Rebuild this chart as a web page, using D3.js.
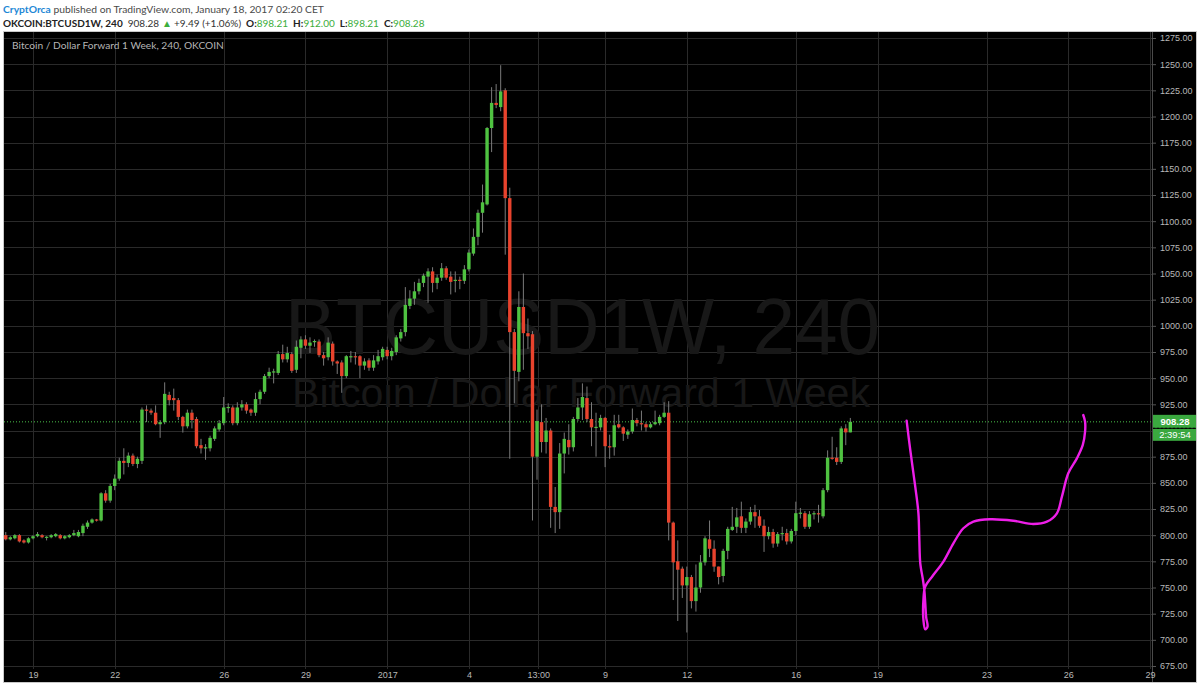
<!DOCTYPE html>
<html><head><meta charset="utf-8">
<script src="https://cdn.jsdelivr.net/npm/d3@7"></script>
<style>
html,body{margin:0;padding:0;background:#fff;}
svg{display:block;}
</style></head>
<body>
<svg id="c" width="1200" height="687"></svg>
<script>
// ---- DATA (4h candles, first bar = 2016-12-18 00:00) ----
const opens = [800,796,797,800,795,793,797,799,800,798,798,799,800,797,798,800,799,802,808,812,815,814,840,833,847,854,871,869,876,868,
871,920,919,917,906,908,934,931,929,913,904,917,911,886,883,883,892,901,907,922,922,907,922,925,920,917,930,937,952,956,
955,973,968,973,958,979,987,981,985,985,972,970,983,966,965,952,970,971,971,962,967,960,966,970,977,971,975,988,994,1019,
1026,1033,1041,1047,1052,1041,1046,1055,1047,1043,1044,1043,1054,1069,1085,1108,1116,1189,1213,1209,1225,1122,994,956,1018,993,992,875,908,889,
900,827,822,878,891,884,911,922,931,911,903,903,912,885,884,906,903,896,899,910,907,906,903,906,907,913,917,812,775,768,
752,760,737,750,774,796,787,770,761,785,805,808,818,807,813,822,818,809,799,803,792,801,802,794,804,821,821,808,820,821,
818,843,874,874,870,902,898.21];
const highs = [803,799,801,801,796,798,800,803,801,799,801,802,801,800,801,805,805,811,814,816,815.5,841,843,849,858,874,883,879,878,875,
922,924,921,924,910,946,937,940,931,914,920,920,913,892,887,895,904,910,932,926,924,927,929,927,921,936,939,954,960,959,
976,982,980,975,986,990,991,989,987,987,975,989,985,967,967,972,976,975,972,969,969,972,977,980,980,979,991,997,1037,1034,
1042,1045,1050,1055,1056,1049,1060,1057,1052,1052,1047,1058,1073,1093,1111,1135,1190,1228,1231,1249,1227,1132,997,1033,1050,1007,995,920,925,912,
902,846,888,898,906,913,931,945,942,927,917,915,913,896,915,915,904,901,921,912,919,908,908,919,915,927,928,813,795,770,
770,762,772,781,799,814,795,770,787,808,827,826,832,816,827,829,824,815,808,806,803,808,806,806,832,826,823,823,823,829,
845,881,894,884,904,906,912];
const lows = [795,795,796,793,792,792,796,798,797,795,797,798,796,796,797,799,798,799,806,811,813,813,831,831,843,852,858,865,866,864,
868,908,915,905,893,906,924,919,910,898,902,902,883,878,872,880,890,899,905,917,905,905,919,916,914,914,925,935,950,945,
953,965,965,955,955,969,978,974,980,970,962,967,962,954,936,950,965,963,950,958,957,957,963,967,968,967,972,985,990,1016,
1020,1030,1037,1022,1032,1035,1043,1044,1030,1032,1035,1040,1052,1067,1077,1089,1115,1166,1208,1205,1068,873,926,947,958,978,814,853,879,878,
807,802,806,859,877,880,909,910,908,885,875,900,865,873,876,902,890,892,897,904,900,899,902,905,905,912,795,738,718,740,
707,730,727,745,771,779,765,753,755,777,804,802,802,802,810,807,807,784,796,788,789,795,791,792,800,816,806,806,815,812,
816,841,872,867,868,886,898.21];
const closes = [796,798,800,794,793,797,799,801,798,798.5,800,801,797,799,800,802,803,809,812,815,814,840,833,847,854,871,869,876,868,873,
920,919,917,906,908,935,929,929,913,904,917,910,885,883,884,893,902,907,922,922.5,907,922,925,919,917,930,937,952,956,956.5,
973,968,974,957,980,987,981,984,985.5,972,969,984,966,964,952,971,971,970,962,966,960,967,971,978,971,976,989,994,1020,1026,
1033,1041,1048,1052,1041,1046,1055,1046,1042,1044,1043,1054,1070,1085,1108,1118,1189,1213,1211,1224,1122,994,957,1018,993,990,875,909,889,900,
827,822,878,892,884,911,922,932,911,903,903.5,912,885,884,905,903,897,899,910,907,906,903,906,908,913,917,812,774,767,752,
760,737,750,774,797,787,770,760,785,806,808,817,807,813,822,818,809,799,803,792,801,802,794,804,821,821.5,808,820,821,820,
843,874,873,870,902,898.21,908.28];

const yTicks = [675,700,725,750,775,800,825,850,875,900,925,950,975,1000,1025,1050,1075,1100,1125,1150,1175,1200,1225,1250,1275];
const xTickDates = [[2016,11,19,0],[2016,11,22,0],[2016,11,26,0],[2016,11,29,0],[2017,0,1,0],[2017,0,4,0],[2017,0,6,13],
  [2017,0,9,0],[2017,0,12,0],[2017,0,16,0],[2017,0,19,0],[2017,0,23,0],[2017,0,26,0],[2017,0,29,0]];
const xTickLabels = ["19","22","26","29","2017","4","13:00","9","12","16","19","23","26","29"];

// hand-drawn projection (fractional bar index, price)
const drawBars = [198.4,199.2,200.3,201.0,201.2,201.4,202.0,202.3,202.5,202.7,203.0,202.5,202.1,202.1,202.5,204.0,206.5,208.7,210.9,213.1,216.8,221.9,226.3,229.3,231.5,232.6,234.0,235.9,237.2,237.7,237.7,237.3];
const drawPrices = [909.4,881.4,846.3,820.9,795.4,773.4,757.2,747.6,735.2,721.8,712.6,710.1,719.0,738.1,750.8,760.3,774.7,792.2,806.6,812.9,815.2,813.8,810.7,812.9,820.9,836.8,859.1,873.4,886.2,898.9,908.4,914.8];

const lastPrice = 908.28;
const countdown = "2:39:54";

// ---- LAYOUT ----
const svg = d3.select("#c");
const P = {left:4, right:1152, top:32, bottom:669, axisBottom:682, panelRight:1196};
const barT0 = Date.UTC(2016,11,18,0);
const H4 = 4*3600*1000;
const barTime = i => new Date(barT0 + i*H4);

const x = d3.scaleUtc().domain([new Date(Date.UTC(2016,11,19)), new Date(Date.UTC(2017,0,29))]).range([33,1150]);
const y = d3.scaleLinear().domain([675,1275]).range([666,38]);

const UP = "#4fc241", DOWN = "#e8432d", WICK = "#7a7a7a", GRID = "#2a2a2a";
const AX = "'Liberation Sans', Arial, sans-serif";

// header
svg.append("rect").attr("x",0).attr("y",0).attr("width",1200).attr("height",687).attr("fill","#ffffff");
const hdr = "Lato, 'Open Sans', sans-serif";
const t1 = svg.append("text").attr("x",3).attr("y",13).attr("font-family",hdr).attr("font-size",10.3);
t1.append("tspan").attr("fill","#1e88d6").attr("font-weight","bold").text("CryptOrca");
t1.append("tspan").attr("fill","#4a4a4a").text(" published on TradingView.com, January 18, 2017 02:20 CET");
const t2 = svg.append("text").attr("x",3).attr("y",27).attr("font-family",hdr).attr("font-size",10);
t2.append("tspan").attr("fill","#222").attr("font-weight","bold").text("OKCOIN:BTCUSD1W, 240");
t2.append("tspan").attr("dx",5).attr("fill","#333").text("908.28");
t2.append("tspan").attr("dx",3).attr("fill","#3cae3c").text("▲");
t2.append("tspan").attr("dx",2).attr("fill","#333").text("+9.49 (+1.06%)");
const ohlc = [["O:","898.21"],["H:","912.00"],["L:","898.21"],["C:","908.28"]];
ohlc.forEach(d=>{
  t2.append("tspan").attr("dx",5).attr("fill","#222").attr("font-weight","bold").text(d[0]);
  t2.append("tspan").attr("fill","#3cae3c").text(d[1]);
});

// chart panel
svg.append("rect").attr("x",P.left).attr("y",P.top).attr("width",P.panelRight-P.left).attr("height",P.axisBottom-P.top).attr("fill","#000");
svg.append("rect").attr("x",P.left-0.5).attr("y",P.top-0.5).attr("width",P.panelRight-P.left+1).attr("height",P.axisBottom-P.top+1).attr("fill","none").attr("stroke","#c9c9c9");

const defs = svg.append("defs");
defs.append("clipPath").attr("id","plot").append("rect").attr("x",P.left).attr("y",P.top).attr("width",P.right-P.left).attr("height",P.bottom-P.top);
defs.append("clipPath").attr("id","yax").append("rect").attr("x",P.right).attr("y",P.top).attr("width",P.panelRight-P.right).attr("height",P.bottom-P.top);

const plot = svg.append("g").attr("clip-path","url(#plot)");

// grid
plot.selectAll("line.hg").data(yTicks).join("line").attr("class","hg")
  .attr("x1",P.left).attr("x2",P.right).attr("y1",d=>Math.round(y(d))+0.5).attr("y2",d=>Math.round(y(d))+0.5)
  .attr("stroke",GRID).attr("stroke-width",1);
const xTickVals = xTickDates.map(d=>new Date(Date.UTC(d[0],d[1],d[2],d[3])));
plot.selectAll("line.vg").data(xTickVals).join("line").attr("class","vg")
  .attr("x1",d=>Math.round(x(d))+0.5).attr("x2",d=>Math.round(x(d))+0.5).attr("y1",P.top).attr("y2",P.bottom)
  .attr("stroke",GRID).attr("stroke-width",1);

// watermark
plot.append("text").attr("x",285).attr("y",354).attr("font-family",AX)
  .attr("font-size",80).attr("fill","#181818").attr("textLength",595).attr("lengthAdjust","spacingAndGlyphs").text("BTCUSD1W, 240");
plot.append("text").attr("x",292).attr("y",407).attr("font-family",AX)
  .attr("font-size",40).attr("fill","#181818").attr("textLength",578).attr("lengthAdjust","spacingAndGlyphs").text("Bitcoin / Dollar Forward 1 Week");

// title
svg.append("text").attr("x",12).attr("y",49).attr("font-family",hdr).attr("font-size",10.2).attr("fill","#b5b5b5")
  .text("Bitcoin / Dollar Forward 1 Week, 240, OKCOIN");

// last price line
plot.append("line").attr("x1",P.left).attr("x2",P.right).attr("y1",y(lastPrice)).attr("y2",y(lastPrice))
  .attr("stroke","#49c049").attr("stroke-dasharray","1,2").attr("stroke-width",1);

// candles
const bars = d3.range(opens.length).map(i=>({i,o:opens[i],h:highs[i],l:lows[i],c:closes[i]}));
const bw = 3.4;
const cg = plot.append("g");
cg.selectAll("line.w").data(bars).join("line").attr("class","w")
  .attr("x1",d=>x(barTime(d.i))).attr("x2",d=>x(barTime(d.i)))
  .attr("y1",d=>y(d.h)).attr("y2",d=>y(d.l)).attr("stroke",WICK).attr("stroke-width",1);
cg.selectAll("rect.b").data(bars).join("rect").attr("class","b")
  .attr("x",d=>x(barTime(d.i))-bw/2).attr("width",bw)
  .attr("y",d=>y(Math.max(d.o,d.c)))
  .attr("height",d=>Math.max(1.2,Math.abs(y(d.o)-y(d.c))))
  .attr("fill",d=>d.c>=d.o?UP:DOWN);

// hand drawing
const line = d3.line().x((d,k)=>x(barTime(drawBars[k]))).y((d,k)=>y(drawPrices[k])).curve(d3.curveCatmullRom.alpha(0.5));
plot.append("path").datum(drawPrices).attr("d",line).attr("fill","none").attr("stroke","#ee1ee8").attr("stroke-width",2.4)
  .attr("stroke-linecap","round").attr("stroke-linejoin","round");

// y axis (labels hidden where the last-price tag covers them)
const ly = y(lastPrice);
const covered = v => y(v) > ly-9 && y(v) < ly+21;
svg.append("line").attr("x1",P.right+0.5).attr("x2",P.right+0.5).attr("y1",P.top).attr("y2",P.axisBottom).attr("stroke","#4a4a4a");
const yclip = svg.append("g").attr("clip-path","url(#yax)");
const yax = yclip.append("g").attr("transform",`translate(${P.right},0)`)
  .call(d3.axisRight(y).tickValues(yTicks.filter(v=>!covered(v))).tickFormat(d3.format(".2f")).tickSize(4).tickPadding(4));
yax.select(".domain").remove();
yax.selectAll(".tick line").attr("stroke","#555");
yax.selectAll(".tick text").attr("fill","#b8b8b8").attr("font-family",AX).attr("font-size",9);

// x axis
const xax = svg.append("g").attr("transform",`translate(0,${P.bottom})`)
  .call(d3.axisBottom(x).tickValues(xTickVals).tickFormat((d,k)=>xTickLabels[k]).tickSize(0).tickPadding(3));
xax.select(".domain").remove();
xax.selectAll(".tick text").attr("fill","#b8b8b8").attr("font-family",AX).attr("font-size",9);

// price label
svg.append("rect").attr("x",P.right+1).attr("y",ly-7).attr("width",43).attr("height",13).attr("fill","#3aa83f");
svg.append("text").attr("x",P.right+23).attr("y",ly+3.5).attr("text-anchor","middle").attr("fill","#fff")
  .attr("font-family",AX).attr("font-size",9.5).attr("font-weight","bold").text("908.28");
svg.append("rect").attr("x",P.right+1).attr("y",ly+7).attr("width",43).attr("height",12).attr("fill","#3aa83f");
svg.append("line").attr("x1",P.right+1).attr("x2",P.right+44).attr("y1",ly+6.5).attr("y2",ly+6.5).attr("stroke","#000").attr("stroke-dasharray","2,2");
svg.append("text").attr("x",P.right+23).attr("y",ly+16.5).attr("text-anchor","middle").attr("fill","#fff")
  .attr("font-family",AX).attr("font-size",9.5).text(countdown);
</script>
</body></html>
